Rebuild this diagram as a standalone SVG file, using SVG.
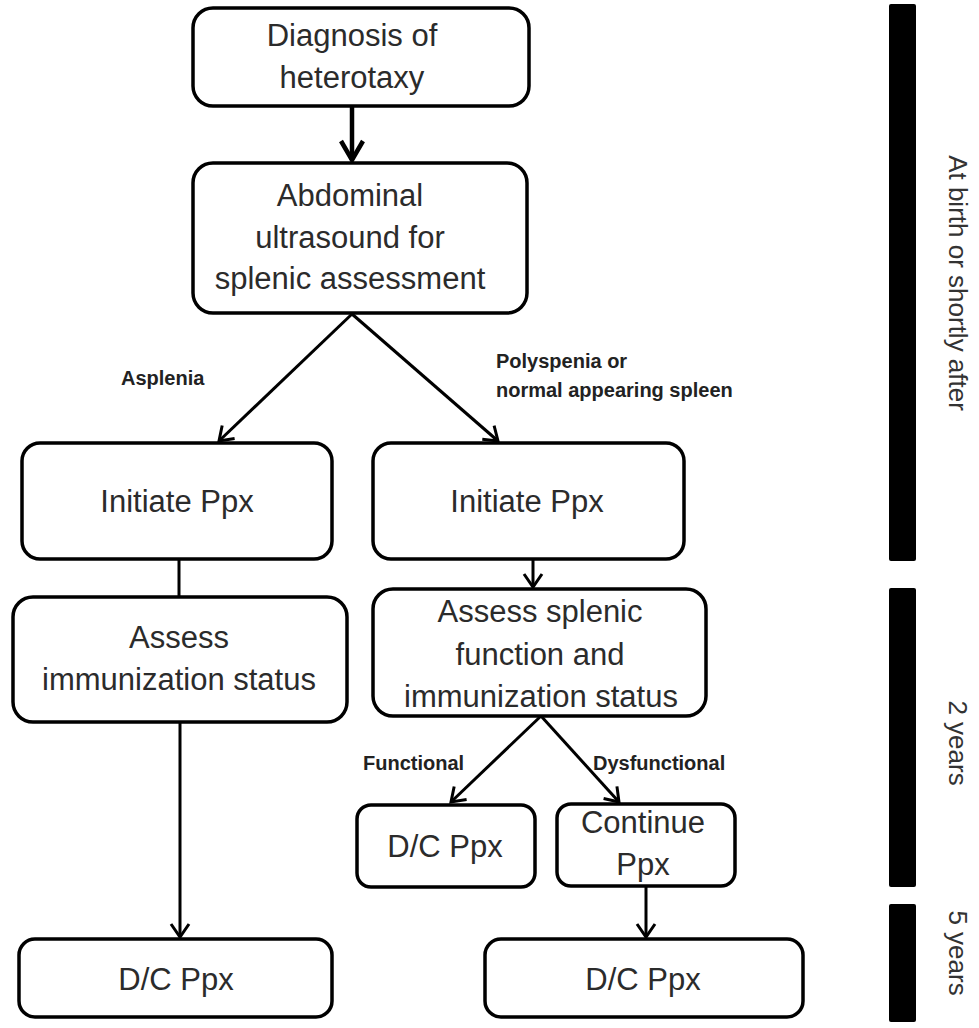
<svg xmlns="http://www.w3.org/2000/svg" width="979" height="1028" viewBox="0 0 979 1028">
<style>
.box{fill:#fff;stroke:#000;stroke-width:3.5}
.t{font-family:"Liberation Sans",Arial,sans-serif;font-size:31px;fill:#2b2b2b;text-anchor:middle}
.lb{font-family:"Liberation Sans",Arial,sans-serif;font-size:20px;font-weight:bold;fill:#222}
.tl{font-family:"Liberation Sans",Arial,sans-serif;font-size:26px;fill:#333;text-anchor:middle}
.c{stroke:#000;stroke-width:3;fill:none}
.bar{fill:#000}
</style>
<defs>
<marker id="ah" markerUnits="userSpaceOnUse" viewBox="-16 -12 20 24" markerWidth="20" markerHeight="24" refX="0" refY="0" orient="auto" overflow="visible">
<path d="M-13,-9 L0,0 L-13,9" fill="none" stroke="#000" stroke-width="3"/>
</marker>
<marker id="ahb" markerUnits="userSpaceOnUse" viewBox="-24 -14 28 28" markerWidth="28" markerHeight="28" refX="0" refY="0" orient="auto" overflow="visible">
<path d="M-19,-11 L0,0 L-19,11" fill="none" stroke="#000" stroke-width="4.5"/>
</marker>
</defs>
<g id="connectors">
<line class="c" x1="352" y1="106" x2="352" y2="160" style="stroke-width:4.5" marker-end="url(#ahb)"/>
<line class="c" x1="352" y1="314" x2="219" y2="441" marker-end="url(#ah)"/>
<line class="c" x1="352" y1="314" x2="498" y2="441" marker-end="url(#ah)"/>
<line class="c" x1="179" y1="559" x2="179" y2="597"/>
<line class="c" x1="533" y1="559" x2="533" y2="587" marker-end="url(#ah)"/>
<line class="c" x1="180" y1="722" x2="180" y2="937" marker-end="url(#ah)"/>
<line class="c" x1="541" y1="716" x2="451" y2="802" marker-end="url(#ah)"/>
<line class="c" x1="541" y1="716" x2="619" y2="802" marker-end="url(#ah)"/>
<line class="c" x1="646" y1="886" x2="646" y2="937" marker-end="url(#ah)"/>
</g>
<g id="labels">
<text class="lb" x="121" y="385">Asplenia</text>
<text class="lb" x="496" y="368">Polyspenia or</text>
<text class="lb" x="496" y="397">normal appearing spleen</text>
<text class="lb" x="363" y="770">Functional</text>
<text class="lb" x="593" y="770">Dysfunctional</text>
</g>
<g id="n1">
<rect class="box" x="193" y="8" width="336" height="98" rx="20"/>
<text class="t" x="352" y="46">Diagnosis of</text>
<text class="t" x="352" y="88">heterotaxy</text>
</g>
<g id="n2">
<rect class="box" x="193" y="163" width="334" height="150" rx="20"/>
<text class="t" x="350" y="206">Abdominal</text>
<text class="t" x="350" y="248">ultrasound for</text>
<text class="t" x="350" y="289">splenic assessment</text>
</g>
<g id="n3">
<rect class="box" x="22" y="443" width="310" height="116" rx="18"/>
<text class="t" x="177" y="512">Initiate Ppx</text>
</g>
<g id="n4">
<rect class="box" x="373" y="443" width="311" height="116" rx="18"/>
<text class="t" x="527" y="512">Initiate Ppx</text>
</g>
<g id="n5">
<rect class="box" x="13" y="597" width="334" height="125" rx="20"/>
<text class="t" x="179" y="648">Assess</text>
<text class="t" x="179" y="690">immunization status</text>
</g>
<g id="n6">
<rect class="box" x="373" y="589" width="333" height="127" rx="20"/>
<text class="t" x="540" y="622">Assess splenic</text>
<text class="t" x="540" y="665">function and</text>
<text class="t" x="541" y="707">immunization status</text>
</g>
<g id="n7">
<rect class="box" x="357" y="805" width="178" height="82" rx="14"/>
<text class="t" x="445" y="857">D/C Ppx</text>
</g>
<g id="n8">
<rect class="box" x="557" y="804" width="178" height="82" rx="14"/>
<text class="t" x="643" y="833">Continue</text>
<text class="t" x="643" y="875">Ppx</text>
</g>
<g id="n9">
<rect class="box" x="19" y="939" width="313" height="78" rx="16"/>
<text class="t" x="176" y="990">D/C Ppx</text>
</g>
<g id="n10">
<rect class="box" x="485" y="939" width="318" height="78" rx="16"/>
<text class="t" x="643" y="990">D/C Ppx</text>
</g>
<g id="timeline">
<rect class="bar" x="889" y="4" width="27" height="557" rx="2"/>
<rect class="bar" x="889" y="588" width="27" height="299" rx="2"/>
<rect class="bar" x="889" y="904" width="27" height="118" rx="2"/>
<text class="tl" transform="translate(949,283) rotate(90)">At birth or shortly after</text>
<text class="tl" transform="translate(949,743) rotate(90)">2 years</text>
<text class="tl" transform="translate(949,953) rotate(90)">5 years</text>
</g>
</svg>
